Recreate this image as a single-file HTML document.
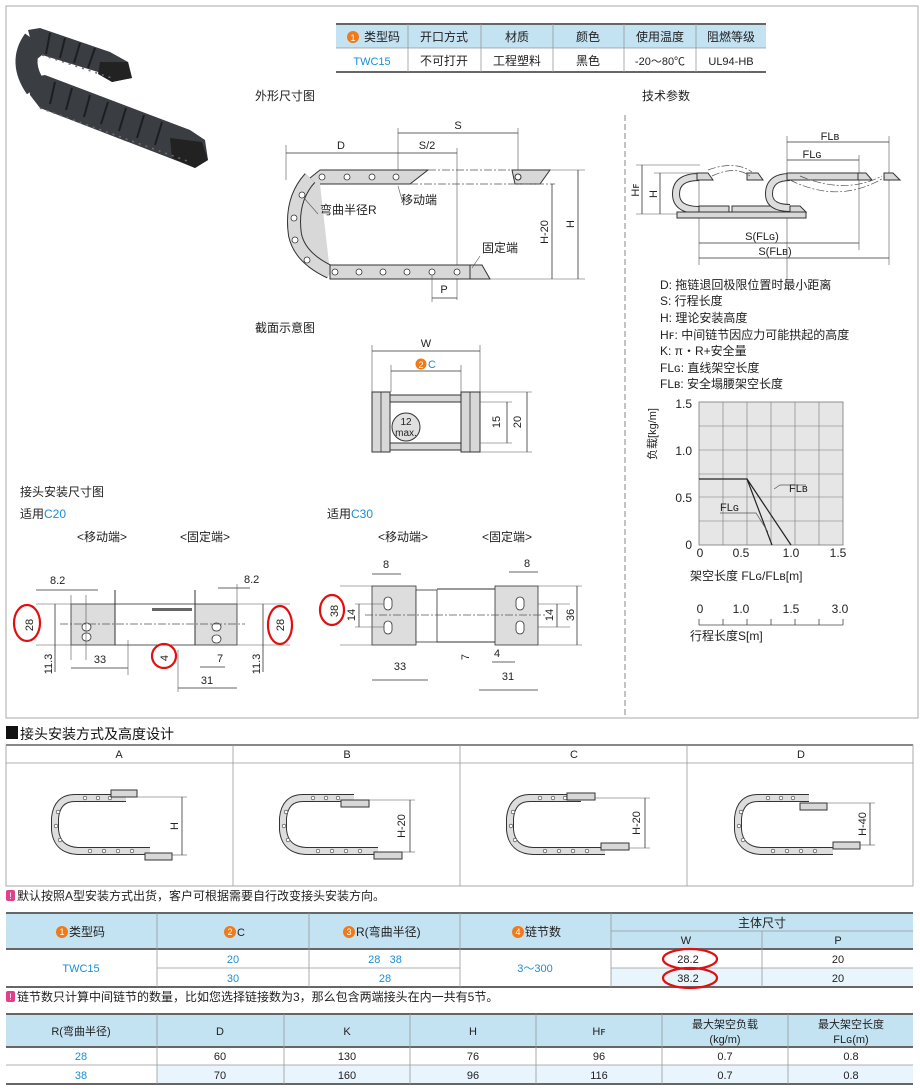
<!DOCTYPE html>
<html><head><meta charset="utf-8"><style>
html,body{margin:0;padding:0;background:#fff;}
svg{display:block;font-family:"Liberation Sans","Noto Sans CJK SC",sans-serif;}
.t{font-size:12px;fill:#222;}
.s{font-size:11px;fill:#222;}
.b{fill:#1a8fd6;}
.dim{stroke:#333;stroke-width:0.8;fill:none;}
.thin{stroke:#555;stroke-width:0.6;fill:none;}
.dd{stroke:#555;stroke-width:0.7;fill:none;stroke-dasharray:8 2 2 2;}
.link{fill:#d8d8d8;stroke:#333;stroke-width:1;}
.grid{stroke:#777;stroke-width:0.6;}
.red{fill:none;stroke:#e01010;stroke-width:2.2;}
.hd{fill:#c3e2f2;}
.st{fill:#e8f5fc;}
.tl{stroke:#999;stroke-width:0.8;}
.tk{stroke:#666;stroke-width:2;}
</style></head><body>
<svg width="920" height="1089" viewBox="0 0 920 1089" xmlns="http://www.w3.org/2000/svg">
<rect x="0" y="0" width="920" height="1089" fill="#fff"/>
<rect x="6" y="6" width="912" height="712" fill="none" stroke="#aaa" stroke-width="1"/>
<line x1="625" y1="115" x2="625" y2="716" stroke="#888" stroke-width="1" stroke-dasharray="6 3"/>

<!-- photo -->
<g>
<polygon points="28,30 40,28 110,52 128,62 132,78 112,82 98,72 42,55 36,60" fill="#3a3d42"/>
<path d="M34 40 Q18 62 36 88" stroke="#3a3d42" stroke-width="22" fill="none"/>
<polygon points="28,78 45,75 190,130 205,140 208,160 195,168 180,162 40,108 30,95" fill="#3a3d42"/>
<g stroke="#1c1e21" stroke-width="2">
<line x1="50" y1="33" x2="46" y2="54"/><line x1="65" y1="38" x2="60" y2="58"/><line x1="80" y1="43" x2="74" y2="63"/><line x1="95" y1="48" x2="88" y2="68"/>
<line x1="55" y1="82" x2="50" y2="104"/><line x1="72" y1="88" x2="66" y2="110"/><line x1="90" y1="95" x2="84" y2="117"/><line x1="108" y1="102" x2="101" y2="124"/><line x1="126" y1="108" x2="119" y2="131"/><line x1="144" y1="115" x2="137" y2="138"/><line x1="162" y1="122" x2="155" y2="145"/>
</g>
<polygon points="100,62 128,62 132,78 112,82 98,74" fill="#222"/>
<polygon points="170,138 202,142 208,160 195,168 172,158" fill="#222"/>
<path d="M42 55 L112 78" stroke="#6a6d72" stroke-width="1.5" stroke-dasharray="2 5"/>
<path d="M40 108 L190 162" stroke="#6a6d72" stroke-width="1.5" stroke-dasharray="2 5"/>
</g>

<!-- top table -->
<rect x="336" y="24" width="430" height="24" class="hd"/>
<line x1="336" y1="24" x2="766" y2="24" class="tk"/>
<line x1="336" y1="48" x2="766" y2="48" class="tl"/>
<line x1="336" y1="72" x2="766" y2="72" class="tk"/>
<g class="tl"><line x1="408" y1="24" x2="408" y2="72"/><line x1="481" y1="24" x2="481" y2="72"/><line x1="553" y1="24" x2="553" y2="72"/><line x1="624" y1="24" x2="624" y2="72"/><line x1="696" y1="24" x2="696" y2="72"/></g>
<circle cx="353" cy="37" r="6" fill="#f07a1a"/><text x="353" y="41" font-size="9" fill="#fff" text-anchor="middle">1</text>
<g class="t" text-anchor="middle">
<text x="382" y="41">类型码</text><text x="444" y="41">开口方式</text><text x="517" y="41">材质</text><text x="588" y="41">颜色</text><text x="660" y="41">使用温度</text><text x="731" y="41">阻燃等级</text>
<text x="372" y="65" class="b" font-size="11">TWC15</text><text x="444" y="65">不可打开</text><text x="517" y="65">工程塑料</text><text x="588" y="65">黑色</text><text x="660" y="65" font-size="11">-20～80℃</text><text x="731" y="65" font-size="11">UL94-HB</text>
</g>

<text x="255" y="100" class="t">外形尺寸图</text>
<text x="642" y="100" class="t">技术参数</text>

<!-- outline diagram -->
<g>
<line x1="286" y1="145" x2="286" y2="180" class="thin"/><line x1="398" y1="128" x2="398" y2="172" class="thin"/><line x1="457" y1="148" x2="457" y2="300" class="thin"/><line x1="518" y1="128" x2="518" y2="170" class="thin"/>
<line x1="286" y1="153" x2="457" y2="153" class="dim"/><line x1="398" y1="133" x2="518" y2="133" class="dim"/>
<text x="341" y="149" class="s" text-anchor="middle">D</text><text x="427" y="149" class="s" text-anchor="middle">S/2</text><text x="458" y="129" class="s" text-anchor="middle">S</text>
<path d="M330 272 L300 255 Q286 240 288 220 Q290 195 310 178 L320 170 L428 170 L410 184 L320 184" fill="#d8d8d8" stroke="#333" stroke-width="1"/>
<path d="M310 178 Q290 200 295 235 Q300 258 330 272" fill="none" stroke="#333" stroke-width="14"/>
<path d="M310 178 Q290 200 295 235 Q300 258 330 272" fill="none" stroke="#d8d8d8" stroke-width="12"/>
<rect x="330" y="265" width="145" height="14" class="link"/>
<path d="M470 265 L482 265 L490 279 L470 279Z" class="link"/>
<g fill="#fff" stroke="#333" stroke-width="0.8">
<circle cx="322" cy="177" r="3"/><circle cx="347" cy="177" r="3"/><circle cx="372" cy="177" r="3"/><circle cx="396" cy="177" r="3"/>
<circle cx="302" cy="195" r="3"/><circle cx="294" cy="218" r="3"/><circle cx="295" cy="240" r="3"/><circle cx="307" cy="260" r="3"/>
<circle cx="335" cy="272" r="3"/><circle cx="359" cy="272" r="3"/><circle cx="383" cy="272" r="3"/><circle cx="407" cy="272" r="3"/><circle cx="432" cy="272" r="3"/><circle cx="457" cy="272" r="3"/>
</g>
<path d="M512 170 L550 170 L540 184 L515 184 Z" class="link"/><circle cx="518" cy="177" r="3" fill="#fff" stroke="#333"/>
<line x1="428" y1="170" x2="512" y2="170" class="dd"/><line x1="410" y1="184" x2="555" y2="184" class="dd"/>
<line x1="550" y1="170" x2="585" y2="170" class="thin"/><line x1="490" y1="279" x2="585" y2="279" class="thin"/>
<line x1="552" y1="184" x2="552" y2="279" class="dim"/><line x1="578" y1="170" x2="578" y2="279" class="dim"/>
<text transform="translate(548 232) rotate(-90)" class="s" text-anchor="middle">H-20</text>
<text transform="translate(574 224) rotate(-90)" class="s" text-anchor="middle">H</text>
<line x1="432" y1="275" x2="432" y2="302" class="thin"/><line x1="432" y1="298" x2="457" y2="298" class="dim"/>
<text x="444" y="293" class="s" text-anchor="middle">P</text>
<text x="401" y="204" class="t">移动端</text><line x1="398" y1="186" x2="402" y2="200" class="thin"/>
<text x="320" y="214" class="t">弯曲半径R</text><line x1="304" y1="198" x2="318" y2="214" class="thin"/>
<text x="482" y="252" class="t">固定端</text><line x1="480" y1="256" x2="472" y2="268" class="thin"/>
</g>

<!-- tech diagram -->
<g>
<line x1="787" y1="136" x2="787" y2="280" class="thin"/><line x1="889" y1="136" x2="889" y2="265" class="thin"/><line x1="859" y1="155" x2="859" y2="250" class="thin"/><line x1="699" y1="175" x2="699" y2="265" class="thin"/>
<line x1="787" y1="142" x2="889" y2="142" class="dim"/><line x1="787" y1="160" x2="859" y2="160" class="dim"/>
<text x="830" y="140" class="s" text-anchor="middle">FLʙ</text><text x="812" y="158" class="s" text-anchor="middle">FLɢ</text>
<line x1="699" y1="243" x2="859" y2="243" class="dim"/><line x1="699" y1="258" x2="889" y2="258" class="dim"/>
<text x="762" y="240" class="s" text-anchor="middle">S(FLɢ)</text><text x="775" y="255" class="s" text-anchor="middle">S(FLʙ)</text>
<line x1="636" y1="165" x2="700" y2="165" class="thin"/><line x1="654" y1="173" x2="700" y2="173" class="thin"/><line x1="636" y1="214" x2="700" y2="214" class="thin"/>
<line x1="642" y1="165" x2="642" y2="214" class="dim"/><line x1="660" y1="173" x2="660" y2="214" class="dim"/>
<text transform="translate(639 190) rotate(-90)" class="s" text-anchor="middle">Hꜰ</text><text transform="translate(657 194) rotate(-90)" class="s" text-anchor="middle">H</text>
<path d="M699 177 Q676 177 676 194 Q676 210 699 210" fill="none" stroke="#333" stroke-width="8"/>
<path d="M699 177 Q676 177 676 194 Q676 210 699 210" fill="none" stroke="#ddd" stroke-width="6"/>
<rect x="677" y="212" width="129" height="6" class="link"/>
<rect x="699" y="206" width="30" height="6" class="link"/><rect x="732" y="206" width="60" height="6" class="link"/>
<path d="M697 173 L708 173 L713 180 L697 180Z" class="link"/>
<path d="M747 173 L758 173 L763 180 L747 180Z" class="link"/>
<path d="M790 177 Q769 177 769 194 Q769 208 790 208" fill="none" stroke="#333" stroke-width="8"/>
<path d="M790 177 Q769 177 769 194 Q769 208 790 208" fill="none" stroke="#ddd" stroke-width="6"/>
<rect x="787" y="173" width="75" height="7" class="link"/><path d="M858 173 L866 173 L872 180 L858 180Z" class="link"/>
<path d="M884 173 L893 173 L900 180 L884 180Z" class="link"/>
<path d="M790 206 L800 206 L806 212 L790 212Z" class="link"/>
<path d="M708 170 Q735 160 752 172" class="dd"/><path d="M712 176 Q735 165 750 176" class="dd"/>
<path d="M790 180 Q840 205 885 177" class="dd"/><path d="M800 176 Q845 195 882 176" class="dd"/>
</g>

<g class="t">
<text x="660" y="289">D: 拖链退回极限位置时最小距离</text>
<text x="660" y="305">S: 行程长度</text>
<text x="660" y="322">H: 理论安装高度</text>
<text x="660" y="339">Hꜰ: 中间链节因应力可能拱起的高度</text>
<text x="660" y="355">K: π・R+安全量</text>
<text x="660" y="372">FLɢ: 直线架空长度</text>
<text x="660" y="388">FLʙ: 安全塌腰架空长度</text>
</g>

<!-- chart -->
<rect x="699" y="402" width="144" height="143" fill="#e6e6e6" stroke="#777" stroke-width="0.8"/>
<g class="grid">
<line x1="723" y1="402" x2="723" y2="545"/><line x1="747" y1="402" x2="747" y2="545"/><line x1="771" y1="402" x2="771" y2="545"/><line x1="795" y1="402" x2="795" y2="545"/><line x1="819" y1="402" x2="819" y2="545"/>
<line x1="699" y1="426" x2="843" y2="426"/><line x1="699" y1="450" x2="843" y2="450"/><line x1="699" y1="474" x2="843" y2="474"/><line x1="699" y1="497" x2="843" y2="497"/><line x1="699" y1="521" x2="843" y2="521"/>
</g>
<polyline points="699,479 747,479 772,545" fill="none" stroke="#222" stroke-width="1.2"/>
<line x1="747" y1="479" x2="791" y2="545" stroke="#222" stroke-width="1.2"/>
<polyline points="774,489 780,485 806,485" fill="none" stroke="#555" stroke-width="0.7"/>
<polyline points="720,513 756,513 768,532" fill="none" stroke="#555" stroke-width="0.7"/>
<text x="789" y="492" class="s">FLʙ</text><text x="720" y="511" class="s">FLɢ</text>
<g class="t" text-anchor="end"><text x="692" y="408">1.5</text><text x="692" y="455">1.0</text><text x="692" y="502">0.5</text><text x="692" y="549">0</text></g>
<text transform="translate(656 434) rotate(-90)" class="s" text-anchor="middle">负载[kg/m]</text>
<g class="t" text-anchor="middle"><text x="700" y="557">0</text><text x="741" y="557">0.5</text><text x="791" y="557">1.0</text><text x="838" y="557">1.5</text></g>
<text x="690" y="580" class="t">架空长度 FLɢ/FLʙ[m]</text>
<g class="t" text-anchor="middle"><text x="700" y="613">0</text><text x="741" y="613">1.0</text><text x="791" y="613">1.5</text><text x="840" y="613">3.0</text></g>
<line x1="699" y1="625" x2="843" y2="625" stroke="#444" stroke-width="0.8"/>
<g stroke="#444" stroke-width="0.8"><line x1="699" y1="619" x2="699" y2="625"/><line x1="723" y1="619" x2="723" y2="625"/><line x1="747" y1="619" x2="747" y2="625"/><line x1="771" y1="619" x2="771" y2="625"/><line x1="795" y1="619" x2="795" y2="625"/><line x1="819" y1="619" x2="819" y2="625"/><line x1="843" y1="619" x2="843" y2="625"/></g>
<text x="690" y="640" class="t">行程长度S[m]</text>

<!-- section -->
<text x="255" y="332" class="t">截面示意图</text>
<line x1="372" y1="345" x2="372" y2="392" class="thin"/><line x1="480" y1="345" x2="480" y2="392" class="thin"/><line x1="391" y1="365" x2="391" y2="392" class="thin"/><line x1="461" y1="365" x2="461" y2="392" class="thin"/>
<line x1="372" y1="351" x2="480" y2="351" class="dim"/><line x1="391" y1="371" x2="461" y2="371" class="dim"/>
<text x="426" y="347" class="s" text-anchor="middle">W</text>
<circle cx="421" cy="364" r="5.5" fill="#f07a1a"/><text x="421" y="368" font-size="9" fill="#fff" text-anchor="middle">2</text><text x="428" y="368" class="s b">C</text>
<rect x="390" y="395" width="71" height="7" class="link"/><rect x="390" y="443" width="71" height="7" class="link"/>
<rect x="372" y="392" width="18" height="60" class="link"/><line x1="381" y1="392" x2="381" y2="452" stroke="#333" stroke-width="0.8"/>
<rect x="461" y="392" width="19" height="60" class="link"/><line x1="470" y1="392" x2="470" y2="452" stroke="#333" stroke-width="0.8"/>
<circle cx="406" cy="427" r="14" fill="#e0e0e0" stroke="#333"/>
<text x="406" y="425" font-size="10" text-anchor="middle" fill="#222">12</text><text x="406" y="436" font-size="10" text-anchor="middle" fill="#222">max.</text>
<line x1="480" y1="402" x2="512" y2="402" class="thin"/><line x1="480" y1="443" x2="512" y2="443" class="thin"/><line x1="480" y1="392" x2="532" y2="392" class="thin"/><line x1="480" y1="452" x2="532" y2="452" class="thin"/>
<line x1="507" y1="402" x2="507" y2="443" class="dim"/><line x1="527" y1="392" x2="527" y2="452" class="dim"/>
<text transform="translate(500 422) rotate(-90)" class="s" text-anchor="middle">15</text><text transform="translate(521 422) rotate(-90)" class="s" text-anchor="middle">20</text>

<text x="20" y="496" class="t">接头安装尺寸图</text>
<text x="20" y="518" class="t">适用<tspan class="b">C20</tspan></text>
<text x="327" y="518" class="t">适用<tspan class="b">C30</tspan></text>
<text x="77" y="541" class="t">&lt;移动端&gt;</text><text x="180" y="541" class="t">&lt;固定端&gt;</text>
<text x="378" y="541" class="t">&lt;移动端&gt;</text><text x="482" y="541" class="t">&lt;固定端&gt;</text>

<!-- C20 -->
<g>
<rect x="71" y="604" width="44" height="41" fill="#ddd" stroke="#333" stroke-width="0.8"/>
<rect x="195" y="604" width="42" height="41" fill="#ddd" stroke="#333" stroke-width="0.8"/>
<rect x="115" y="604" width="80" height="41" fill="none" stroke="#333" stroke-width="0.8"/>
<rect x="152" y="608" width="40" height="3" fill="#666"/>
<line x1="115" y1="590" x2="115" y2="645" stroke="#333"/><line x1="195" y1="590" x2="195" y2="645" stroke="#333"/>
<g fill="#fff" stroke="#333" stroke-width="0.8"><rect x="82" y="623" width="9" height="8" rx="4"/><rect x="82" y="633" width="9" height="8" rx="4"/><rect x="212" y="623" width="9" height="8" rx="4"/><rect x="212" y="635" width="9" height="8" rx="4"/></g>
<line x1="60" y1="624" x2="245" y2="624" class="dd"/>
<line x1="36" y1="604" x2="71" y2="604" class="thin"/><line x1="36" y1="645" x2="71" y2="645" class="thin"/><line x1="237" y1="604" x2="290" y2="604" class="thin"/><line x1="237" y1="645" x2="290" y2="645" class="thin"/>
<line x1="55" y1="604" x2="55" y2="672" class="dim"/><line x1="263" y1="604" x2="263" y2="672" class="dim"/>
<text transform="translate(52 664) rotate(-90)" class="s" text-anchor="middle">11.3</text><text transform="translate(260 664) rotate(-90)" class="s" text-anchor="middle">11.3</text>
<text transform="translate(33 625) rotate(-90)" class="s" text-anchor="middle">28</text><text transform="translate(284 625) rotate(-90)" class="s" text-anchor="middle">28</text>
<line x1="71" y1="595" x2="71" y2="660" class="thin"/><line x1="86" y1="595" x2="86" y2="660" class="thin"/>
<line x1="36" y1="590" x2="98" y2="590" class="dim"/><text x="50" y="584" class="s">8.2</text>
<line x1="218" y1="588" x2="250" y2="588" class="dim"/><text x="244" y="583" class="s">8.2</text><line x1="237" y1="584" x2="237" y2="604" class="thin"/>
<line x1="71" y1="668" x2="128" y2="668" class="dim"/><line x1="128" y1="640" x2="128" y2="675" class="thin"/><text x="100" y="663" class="s" text-anchor="middle">33</text>
<line x1="178" y1="688" x2="237" y2="688" class="dim"/><line x1="178" y1="650" x2="178" y2="692" class="thin"/><text x="207" y="684" class="s" text-anchor="middle">31</text>
<line x1="200" y1="667" x2="225" y2="667" class="dim"/><text x="217" y="662" class="s">7</text>
<text transform="translate(168 658) rotate(-90)" class="s" text-anchor="middle">4</text>
<ellipse cx="27" cy="623" rx="13" ry="18" class="red"/><ellipse cx="280" cy="625" rx="12" ry="19" class="red"/><circle cx="164" cy="656" r="12" class="red"/>
</g>

<!-- C30 -->
<g>
<rect x="372" y="586" width="44" height="59" fill="#ddd" stroke="#333" stroke-width="0.8"/>
<rect x="416" y="590" width="21" height="52" fill="#fff" stroke="#333" stroke-width="0.8"/>
<rect x="495" y="586" width="43" height="59" fill="#ddd" stroke="#333" stroke-width="0.8"/>
<line x1="437" y1="589" x2="495" y2="589" stroke="#333"/><line x1="437" y1="642" x2="495" y2="642" stroke="#333"/>
<g fill="#fff" stroke="#333" stroke-width="0.8"><rect x="384" y="597" width="8" height="13" rx="4"/><rect x="384" y="621" width="8" height="13" rx="4"/><rect x="516" y="597" width="8" height="13" rx="4"/><rect x="516" y="621" width="8" height="13" rx="4"/></g>
<line x1="365" y1="615" x2="545" y2="615" class="dd"/>
<line x1="340" y1="586" x2="372" y2="586" class="thin"/><line x1="340" y1="645" x2="372" y2="645" class="thin"/>
<line x1="355" y1="604" x2="384" y2="604" class="thin"/><line x1="355" y1="627" x2="384" y2="627" class="thin"/>
<line x1="359" y1="604" x2="359" y2="627" class="dim"/><text transform="translate(355 615) rotate(-90)" class="s" text-anchor="middle">14</text>
<text transform="translate(338 611) rotate(-90)" class="s" text-anchor="middle">38</text>
<line x1="372" y1="574" x2="401" y2="574" class="dim"/><text x="383" y="568" class="s">8</text>
<line x1="509" y1="572" x2="538" y2="572" class="dim"/><text x="524" y="567" class="s">8</text>
<line x1="538" y1="604" x2="570" y2="604" class="thin"/><line x1="538" y1="627" x2="570" y2="627" class="thin"/><line x1="538" y1="586" x2="582" y2="586" class="thin"/><line x1="538" y1="645" x2="582" y2="645" class="thin"/>
<line x1="557" y1="604" x2="557" y2="627" class="dim"/><line x1="577" y1="586" x2="577" y2="645" class="dim"/>
<text transform="translate(553 615) rotate(-90)" class="s" text-anchor="middle">14</text><text transform="translate(574 615) rotate(-90)" class="s" text-anchor="middle">36</text>
<line x1="372" y1="680" x2="428" y2="680" class="dim"/><text x="400" y="670" class="s" text-anchor="middle">33</text>
<line x1="479" y1="690" x2="538" y2="690" class="dim"/><text x="508" y="680" class="s" text-anchor="middle">31</text>
<line x1="492" y1="662" x2="515" y2="662" class="dim"/><text x="494" y="657" class="s">4</text>
<text transform="translate(469 657) rotate(-90)" class="s" text-anchor="middle">7</text>
<ellipse cx="332" cy="610" rx="12" ry="15" class="red"/>
</g>

<!-- section 2 -->
<rect x="6" y="726" width="12" height="13" fill="#111"/>
<text x="20" y="739" font-size="14" fill="#111">接头安装方式及高度设计</text>
<line x1="6" y1="745" x2="913" y2="745" class="tk"/>
<rect x="6" y="745" width="907" height="141" fill="none" stroke="#aaa"/>
<line x1="6" y1="763" x2="913" y2="763" class="tl"/>
<g class="tl"><line x1="233" y1="745" x2="233" y2="886"/><line x1="460" y1="745" x2="460" y2="886"/><line x1="687" y1="745" x2="687" y2="886"/></g>
<g class="s" text-anchor="middle"><text x="119" y="758">A</text><text x="347" y="758">B</text><text x="574" y="758">C</text><text x="801" y="758">D</text></g>

<g id="ch">
<path d="M126 798 L75 798 Q57 798 55 818 L55 830 Q57 850 78 851 L150 851" fill="none" stroke="#333" stroke-width="8"/>
<path d="M126 798 L75 798 Q57 798 55 818 L55 830 Q57 850 78 851 L150 851" fill="none" stroke="#ddd" stroke-width="6"/>
<g fill="#fff" stroke="#333" stroke-width="0.6"><circle cx="85" cy="798" r="1.8"/><circle cx="98" cy="798" r="1.8"/><circle cx="110" cy="798" r="1.8"/><circle cx="58" cy="812" r="1.8"/><circle cx="56" cy="826" r="1.8"/><circle cx="60" cy="840" r="1.8"/><circle cx="90" cy="851" r="1.8"/><circle cx="104" cy="851" r="1.8"/><circle cx="118" cy="851" r="1.8"/><circle cx="132" cy="851" r="1.8"/></g>
</g>
<rect x="111" y="790" width="26" height="7" class="link"/><rect x="145" y="853" width="27" height="7" class="link"/>
<line x1="137" y1="797" x2="187" y2="797" class="thin"/><line x1="172" y1="855" x2="187" y2="855" class="thin"/>
<line x1="182" y1="797" x2="182" y2="855" class="dim"/><text transform="translate(178 826) rotate(-90)" class="s" text-anchor="middle">H</text>
<use href="#ch" x="228" y="0"/>
<rect x="341" y="800" width="28" height="7" class="link"/><rect x="374" y="852" width="28" height="7" class="link"/>
<line x1="369" y1="800" x2="415" y2="800" class="thin"/><line x1="402" y1="852" x2="415" y2="852" class="thin"/>
<line x1="410" y1="800" x2="410" y2="852" class="dim"/><text transform="translate(405 826) rotate(-90)" class="s" text-anchor="middle">H-20</text>
<use href="#ch" x="455" y="0"/>
<rect x="567" y="793" width="28" height="7" class="link"/><rect x="601" y="843" width="28" height="7" class="link"/>
<line x1="595" y1="798" x2="650" y2="798" class="thin"/><line x1="629" y1="848" x2="650" y2="848" class="thin"/>
<line x1="645" y1="798" x2="645" y2="848" class="dim"/><text transform="translate(640 823) rotate(-90)" class="s" text-anchor="middle">H-20</text>
<use href="#ch" x="683" y="0"/>
<rect x="800" y="803" width="27" height="7" class="link"/><rect x="833" y="842" width="27" height="7" class="link"/>
<line x1="827" y1="803" x2="875" y2="803" class="thin"/><line x1="860" y1="845" x2="875" y2="845" class="thin"/>
<line x1="870" y1="803" x2="870" y2="845" class="dim"/><text transform="translate(866 824) rotate(-90)" class="s" text-anchor="middle">H-40</text>

<rect x="6" y="890" width="9" height="11" rx="2" fill="#e0408a"/><text x="10.5" y="899" font-size="9" fill="#fff" text-anchor="middle">!</text>
<text x="17" y="900" class="t">默认按照A型安装方式出货，客户可根据需要自行改变接头安装方向。</text>

<!-- table 2 -->
<rect x="6" y="913" width="907" height="36" class="hd"/>
<rect x="611" y="968" width="302" height="19" class="st"/>
<line x1="6" y1="913" x2="913" y2="913" class="tk"/><line x1="6" y1="949" x2="913" y2="949" class="tk"/><line x1="6" y1="987" x2="913" y2="987" class="tk"/>
<line x1="611" y1="931" x2="913" y2="931" class="tl"/><line x1="157" y1="968" x2="460" y2="968" class="tl"/><line x1="611" y1="968" x2="913" y2="968" class="tl"/>
<g class="tl"><line x1="157" y1="913" x2="157" y2="987"/><line x1="309" y1="913" x2="309" y2="987"/><line x1="460" y1="913" x2="460" y2="987"/><line x1="611" y1="913" x2="611" y2="987"/><line x1="762" y1="931" x2="762" y2="987"/></g>
<g font-size="9" fill="#fff" text-anchor="middle">
<circle cx="62" cy="932" r="6" fill="#f07a1a"/><text x="62" y="935">1</text>
<circle cx="230" cy="932" r="6" fill="#f07a1a"/><text x="230" y="935">2</text>
<circle cx="349" cy="932" r="6" fill="#f07a1a"/><text x="349" y="935">3</text>
<circle cx="518" cy="932" r="6" fill="#f07a1a"/><text x="518" y="935">4</text>
</g>
<g class="t"><text x="69" y="936">类型码</text><text x="237" y="936" class="s">C</text><text x="356" y="936">R(弯曲半径)</text><text x="525" y="936">链节数</text></g>
<text x="762" y="927" class="t" text-anchor="middle">主体尺寸</text>
<g class="s" text-anchor="middle"><text x="686" y="944">W</text><text x="838" y="944">P</text>
<text x="81" y="972" class="b">TWC15</text><text x="233" y="963" class="b">20</text><text x="233" y="982" class="b">30</text>
<text x="385" y="963" class="b">28 &#160; 38</text><text x="385" y="982" class="b">28</text><text x="535" y="972" class="b">3～300</text>
<text x="688" y="963">28.2</text><text x="688" y="982">38.2</text><text x="838" y="963">20</text><text x="838" y="982">20</text></g>
<ellipse cx="690" cy="959" rx="27" ry="10" class="red"/><ellipse cx="690" cy="978" rx="27" ry="10" class="red"/>

<rect x="6" y="991" width="9" height="11" rx="2" fill="#e0408a"/><text x="10.5" y="1000" font-size="9" fill="#fff" text-anchor="middle">!</text>
<text x="17" y="1001" class="t">链节数只计算中间链节的数量，比如您选择链接数为3，那么包含两端接头在内一共有5节。</text>

<!-- table 3 -->
<rect x="6" y="1014" width="907" height="33" class="hd"/>
<rect x="157" y="1065" width="756" height="19" class="st"/>
<line x1="6" y1="1014" x2="913" y2="1014" class="tk"/><line x1="6" y1="1047" x2="913" y2="1047" class="tk"/><line x1="6" y1="1065" x2="913" y2="1065" class="tl"/><line x1="6" y1="1084" x2="913" y2="1084" class="tk"/>
<g class="tl"><line x1="157" y1="1014" x2="157" y2="1084"/><line x1="284" y1="1014" x2="284" y2="1084"/><line x1="410" y1="1014" x2="410" y2="1084"/><line x1="536" y1="1014" x2="536" y2="1084"/><line x1="662" y1="1014" x2="662" y2="1084"/><line x1="788" y1="1014" x2="788" y2="1084"/></g>
<g class="s" text-anchor="middle">
<text x="81" y="1035">R(弯曲半径)</text><text x="220" y="1035">D</text><text x="347" y="1035">K</text><text x="473" y="1035">H</text><text x="599" y="1035">Hꜰ</text>
<text x="725" y="1028">最大架空负载</text><text x="725" y="1043">(kg/m)</text><text x="851" y="1028">最大架空长度</text><text x="851" y="1043">FLɢ(m)</text>
<text x="81" y="1060" class="b">28</text><text x="220" y="1060">60</text><text x="347" y="1060">130</text><text x="473" y="1060">76</text><text x="599" y="1060">96</text><text x="725" y="1060">0.7</text><text x="851" y="1060">0.8</text>
<text x="81" y="1079" class="b">38</text><text x="220" y="1079">70</text><text x="347" y="1079">160</text><text x="473" y="1079">96</text><text x="599" y="1079">116</text><text x="725" y="1079">0.7</text><text x="851" y="1079">0.8</text>
</g>
</svg>
</body></html>
